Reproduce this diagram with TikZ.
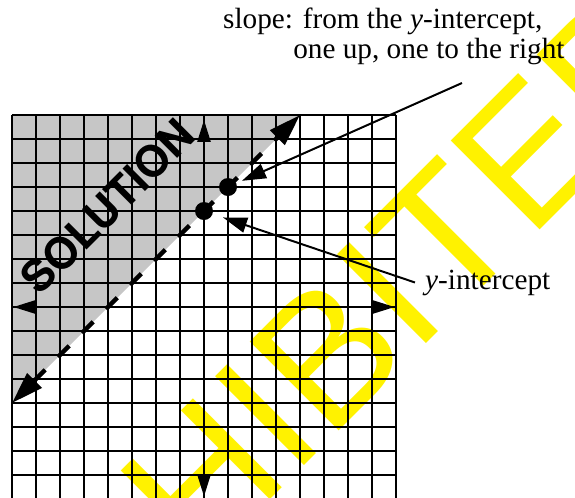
\documentclass[tikz,border=0pt]{standalone}
\usepackage{fontspec}
\setmainfont{Liberation Serif}
\newfontfamily\solfont{TeX Gyre Heros}
\newfontfamily\wmfont{Liberation Sans}
\usetikzlibrary{arrows.meta}

\tikzset{
  gridline/.style={line width=0.8pt},
  axisline/.style={line width=2pt,
    {Triangle[length=0.55cm,width=0.32cm]}-{Triangle[length=0.55cm,width=0.32cm]}},
  solline/.style={line width=0.11cm,dash pattern=on 0.4cm off 0.45cm,
    {Triangle[length=0.8cm,width=0.5cm]}-{Triangle[length=0.8cm,width=0.5cm]}},
  pointer/.style={line width=1.4pt,-{Triangle[length=0.6cm,width=0.38cm]}},
  dot/.style={circle,fill,inner sep=0pt,minimum size=0.45cm},
}

\begin{document}
\begin{tikzpicture}[x=0.6cm,y=0.6cm,every node/.style={font=\fontsize{20.8}{25}\selectfont}]
\useasboundingbox (-8.5,-7.917) rectangle (15.458,12.792);
\clip (-8.5,-7.917) rectangle (15.458,12.792);
% shaded half plane
\fill[gray!45] (-8,-4) -- (-8,8) -- (4,8) -- cycle;
% watermark
\node[font=\wmfont\fontsize{130}{130}\selectfont,text=yellow,rotate=45,
  anchor=base west,inner sep=0pt] (wmark) at (-0.21,-11) {HIBITED};
% grid and axes
\draw[gridline] (-8,-8) grid[step=1] (8,8);
\draw[axisline] (-7.95,0) -- (7.95,0);
\draw[axisline] (0,-7.9) -- (0,7.8);
% the line y = x + 4
\draw[solline] (-8,-4) -- (4,8);
\node[dot] (yicpt) at (0,4) {};
\node[dot] (nextpt) at (1,5) {};
\node[font=\solfont\bfseries\fontsize{31}{32}\selectfont,rotate=45] (sol) at (-4.02,4.19) {SOLUTION};
% labels
\node[anchor=base west,inner sep=0pt] (slopeA) at (0.79,11.625) {slope: from the \textit{y}-intercept,};
\node[anchor=base west,inner sep=0pt] (slopeB) at (3.71,10.375) {one up, one to the right};
\coordinate (slopefoot) at (10.75,9.333);
\node[anchor=base west,inner sep=0.25cm] (yint) at (8.79,0.75) {\textit{y}-intercept};
\draw[pointer,shorten >=0.15cm] (slopefoot) -- (nextpt);
\draw[pointer,shorten >=0.27cm] (yint.west) -- (yicpt);
\end{tikzpicture}
\end{document}
